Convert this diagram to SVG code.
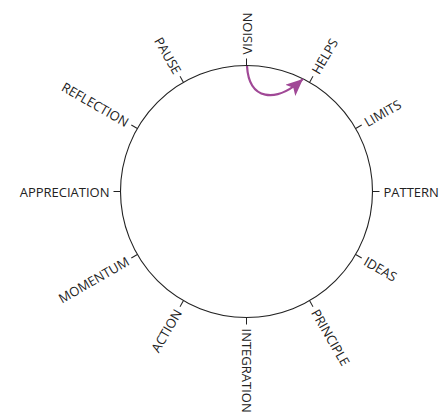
<svg xmlns="http://www.w3.org/2000/svg" width="444" height="414" viewBox="0 0 444 414">
<defs>
<style>
.lbl{font-family:"Open Sans","Noto Sans",sans-serif;font-size:13px;fill:#222;dominant-baseline:central}
.tick{stroke:#222;stroke-width:1}
.ring{fill:none;stroke:#222;stroke-width:1.1}
.arc{fill:none;stroke:#a04896;stroke-width:2.2}
</style>
<marker id="ah" markerUnits="userSpaceOnUse" markerWidth="19" markerHeight="17" refX="17" refY="7.5" orient="auto">
<path d="M0,0 L17,7.5 L0,15 L4,7.5 z" fill="#a04896"/>
</marker>
</defs>
<rect width="444" height="414" fill="#fff"/>
<g id="wheel" transform="translate(246.5,191.5)">
<circle class="ring" cx="0" cy="0" r="126"/>
<g id="ticks">
<line class="tick" x1="126" y1="0" x2="133" y2="0" transform="rotate(-90)"/>
<line class="tick" x1="126" y1="0" x2="133" y2="0" transform="rotate(-60)"/>
<line class="tick" x1="126" y1="0" x2="133" y2="0" transform="rotate(-30)"/>
<line class="tick" x1="126" y1="0" x2="133" y2="0" transform="rotate(0)"/>
<line class="tick" x1="126" y1="0" x2="133" y2="0" transform="rotate(30)"/>
<line class="tick" x1="126" y1="0" x2="133" y2="0" transform="rotate(60)"/>
<line class="tick" x1="126" y1="0" x2="133" y2="0" transform="rotate(90)"/>
<line class="tick" x1="126" y1="0" x2="133" y2="0" transform="rotate(120)"/>
<line class="tick" x1="126" y1="0" x2="133" y2="0" transform="rotate(150)"/>
<line class="tick" x1="126" y1="0" x2="133" y2="0" transform="rotate(180)"/>
<line class="tick" x1="126" y1="0" x2="133" y2="0" transform="rotate(210)"/>
<line class="tick" x1="126" y1="0" x2="133" y2="0" transform="rotate(240)"/>
</g>
</g>
<g id="n-vision"><text class="lbl" transform="translate(246.5,191.5) rotate(-90) translate(137,0)">VISION</text></g>
<g id="n-helps"><text class="lbl" transform="translate(246.5,191.5) rotate(-60) translate(137,0)">HELPS</text></g>
<g id="n-limits"><text class="lbl" transform="translate(246.5,191.5) rotate(-30) translate(137,0)">LIMITS</text></g>
<g id="n-pattern"><text class="lbl" transform="translate(246.5,191.5) rotate(0) translate(137,0)">PATTERN</text></g>
<g id="n-ideas"><text class="lbl" transform="translate(246.5,191.5) rotate(30) translate(137,0)">IDEAS</text></g>
<g id="n-principle"><text class="lbl" transform="translate(246.5,191.5) rotate(60) translate(137,0)">PRINCIPLE</text></g>
<g id="n-integration"><text class="lbl" transform="translate(246.5,191.5) rotate(90) translate(137,0)">INTEGRATION</text></g>
<g id="n-action"><text class="lbl" text-anchor="end" transform="translate(246.5,191.5) rotate(120) translate(137,0) rotate(180)">ACTION</text></g>
<g id="n-momentum"><text class="lbl" text-anchor="end" transform="translate(246.5,191.5) rotate(150) translate(137,0) rotate(180)">MOMENTUM</text></g>
<g id="n-appreciation"><text class="lbl" text-anchor="end" transform="translate(246.5,191.5) rotate(180) translate(137,0) rotate(180)">APPRECIATION</text></g>
<g id="n-reflection"><text class="lbl" text-anchor="end" transform="translate(246.5,191.5) rotate(210) translate(137,0) rotate(180)">REFLECTION</text></g>
<g id="n-pause"><text class="lbl" text-anchor="end" transform="translate(246.5,191.5) rotate(240) translate(137,0) rotate(180)">PAUSE</text></g>
<g id="connectors">
<path class="arc" d="M247,66 C249,100 275,104 303,79" marker-end="url(#ah)"/>
</g>
</svg>
